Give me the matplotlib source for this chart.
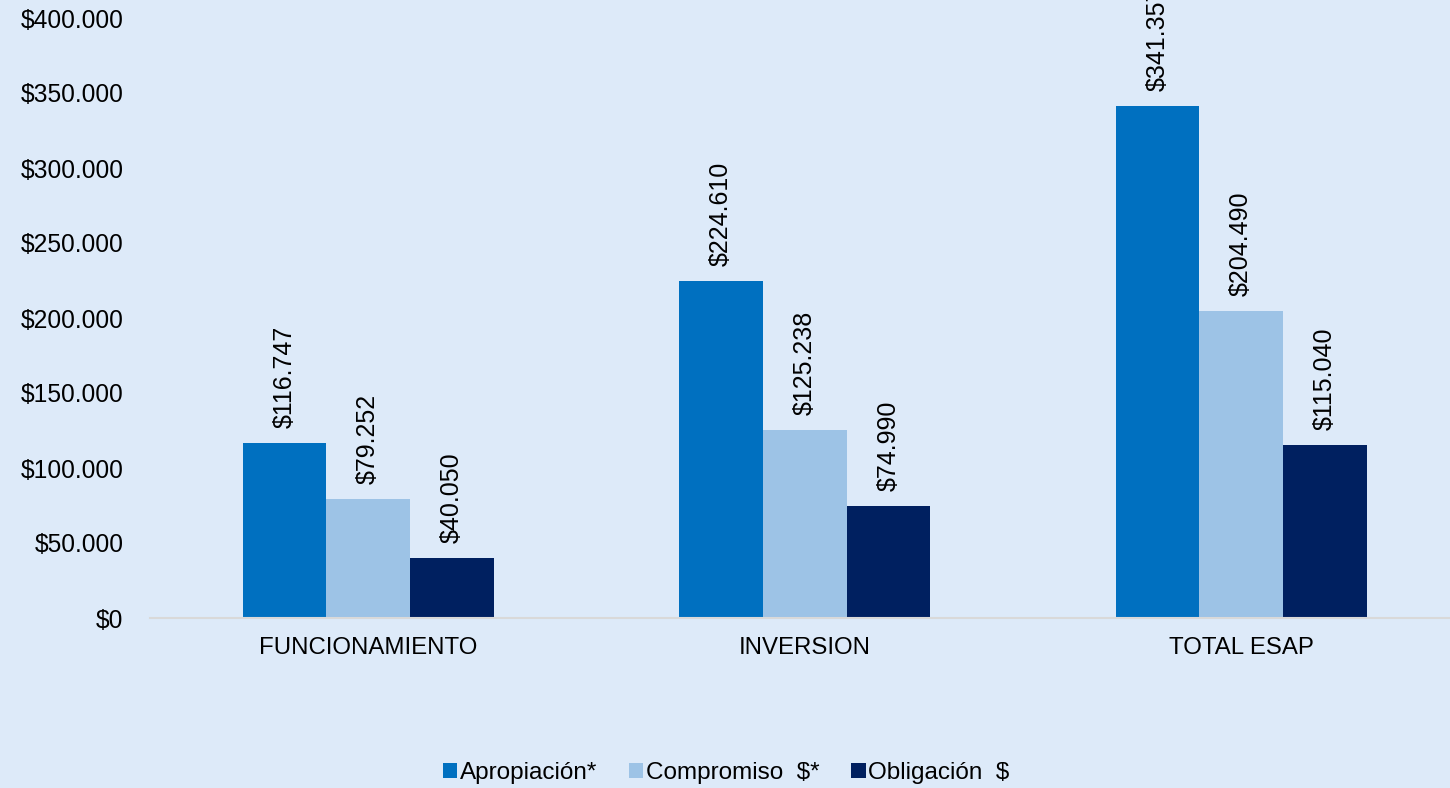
import numpy as np
import matplotlib
matplotlib.use("Agg")
import matplotlib.pyplot as plt

categories = ["FUNCIONAMIENTO", "INVERSION", "TOTAL ESAP"]
apropiacion = [116747, 224610, 341357]
compromiso = [79252, 125238, 204490]
obligacion = [40050, 74990, 115040]
series_names = ["Apropiación*", "Compromiso  $*", "Obligación  $"]
colors = ["#0070C0", "#9DC3E6", "#002060"]
yticks = [0, 50000, 100000, 150000, 200000, 250000, 300000, 350000, 400000]

bg = "#DDEAF9"
plt.rcParams["font.family"] = ["Liberation Sans", "DejaVu Sans"]

def money(v):
    return "$" + f"{v:,.0f}".replace(",", ".")

fig = plt.figure(figsize=(14.5, 7.88), dpi=100, facecolor=bg)
ax = fig.add_axes([150 / 1450, 1 - 618 / 788, 1309.5 / 1450, 600 / 788])
ax.set_facecolor(bg)

x = np.arange(len(categories))
w = 0.192
for i, (vals, name, c) in enumerate(zip([apropiacion, compromiso, obligacion], series_names, colors)):
    bars = ax.bar(x + (i - 1) * w, vals, w, color=c, label=name)
    for b, v in zip(bars, vals):
        ax.text(b.get_x() + b.get_width() / 2, v + 10000, money(v), rotation=90,
                ha="center", va="bottom", fontsize=18, clip_on=False)

ax.set_xlim(-0.5, 2.5)
ax.set_ylim(0, 400000)
ax.set_yticks(yticks)
ax.set_yticklabels([money(v) for v in yticks])
ax.set_xticks(x)
ax.set_xticklabels(categories)
ax.tick_params(axis="both", length=0, colors="black")
ax.tick_params(axis="x", pad=14, labelsize=17.3)
ax.tick_params(axis="y", pad=19, labelsize=17.7)
for s in ["top", "right", "left"]:
    ax.spines[s].set_visible(False)
ax.spines["bottom"].set_color("#D9D9D9")
ax.spines["bottom"].set_linewidth(1.5)

fig.legend(loc="center", bbox_to_anchor=(726 / 1450, 1 - 773 / 788), ncol=3, frameon=False,
           fontsize=17.5, handlelength=0.6, handleheight=0.6, handletextpad=0.1,
           columnspacing=1.3)

fig.savefig("out.png", dpi=100, facecolor=bg)
